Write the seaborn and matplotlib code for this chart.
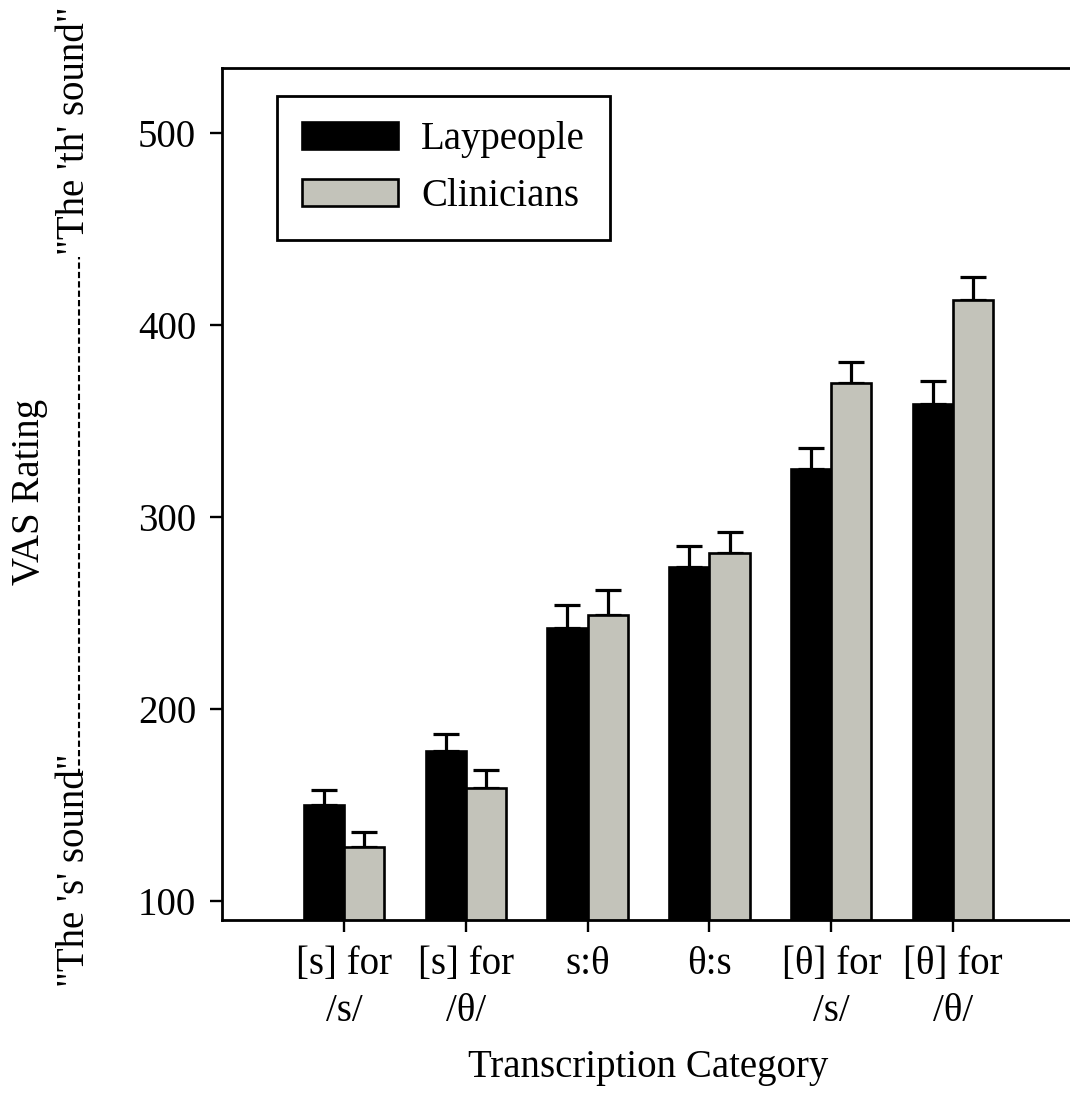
import numpy as np
import pandas as pd
import matplotlib
matplotlib.use("Agg")
import matplotlib.pyplot as plt
from matplotlib.lines import Line2D
import seaborn as sns

# data
categories = ["[s] for\n/s/", "[s] for\n/θ/", "s:θ", "θ:s", "[θ] for\n/s/", "[θ] for\n/θ/"]
groups = ["Laypeople", "Clinicians"]
lay_mean = [150, 178, 242, 274, 325, 359]
clin_mean = [128, 159, 249, 281, 370, 413]
lay_err = [8, 9, 12, 11, 11, 12]
clin_err = [8, 9, 13, 11, 11, 12]

df = pd.DataFrame({
    "category": categories * 2,
    "group": [groups[0]] * len(categories) + [groups[1]] * len(categories),
    "rating": lay_mean + clin_mean,
})
errs = {groups[0]: lay_err, groups[1]: clin_err}

sns.set_style("ticks")
plt.rcParams["font.family"] = ["Liberation Serif", "DejaVu Serif"]
plt.rcParams["font.size"] = 28
for k in ["text.color", "axes.labelcolor", "xtick.color", "ytick.color"]:
    plt.rcParams[k] = "black"

fig = plt.figure(figsize=(10.7, 10.93), dpi=100)
ax = fig.add_axes([222 / 1070, 1 - 920 / 1093, 853 / 1070, 852 / 1093])

sns.barplot(data=df, x="category", y="rating", hue="group", hue_order=groups,
            palette=["#000000", "#c4c4b8"], width=0.66, edgecolor="black",
            linewidth=1.9, errorbar=None, ax=ax, zorder=2)

# one-sided error bars (upward only)
for cont, g in zip(ax.containers, groups):
    xs = [b.get_x() + b.get_width() / 2 for b in cont]
    ys = [b.get_height() for b in cont]
    e = errs[g]
    ax.errorbar(xs, ys, yerr=[np.zeros(len(e)), e], fmt="none", ecolor="black",
                elinewidth=2.3, capsize=9.4, capthick=2.3, zorder=1)

ax.set_xlim(-1, 6)
ax.set_ylim(90, 534)
ax.set_yticks([100, 200, 300, 400, 500])
ax.tick_params(axis="both", direction="out", length=8.6, width=1.7, pad=10, labelsize=28)
for s in ax.spines.values():
    s.set_linewidth(2.0)
    s.set_color("black")

ax.set_ylabel("")
ax.set_xlabel("Transcription Category", fontsize=28, labelpad=14)
for t in ax.get_xticklabels():
    t.set_linespacing(1.35)

leg = ax.legend(loc="upper left", bbox_to_anchor=(0.0645, 0.967), borderaxespad=0,
                fontsize=28, frameon=True, fancybox=False, framealpha=1,
                edgecolor="black", handlelength=2.45, handleheight=0.7,
                handletextpad=0.6, labelspacing=0.5, borderpad=0.65)
leg.get_frame().set_linewidth(2.0)

# y-axis labels: title and the scale anchors joined by a dashed line
fig.text(0.028, 0.55, "VAS Rating", rotation=90, ha="center", va="center", fontsize=28)
fig.text(0.07, 1 - 987 / 1093, '"The \'s\' sound"', rotation=90,
         ha="center", va="bottom", fontsize=28)
fig.text(0.07, 1 - 255 / 1093, '"The \'th\' sound"', rotation=90,
         ha="center", va="bottom", fontsize=28)
fig.add_artist(Line2D([0.0735, 0.0735], [1 - 775 / 1093, 1 - 257 / 1093],
                      transform=fig.transFigure, color="black", lw=1.5,
                      linestyle=(0, (3, 1.5))))

fig.savefig("out.png", dpi=100)
